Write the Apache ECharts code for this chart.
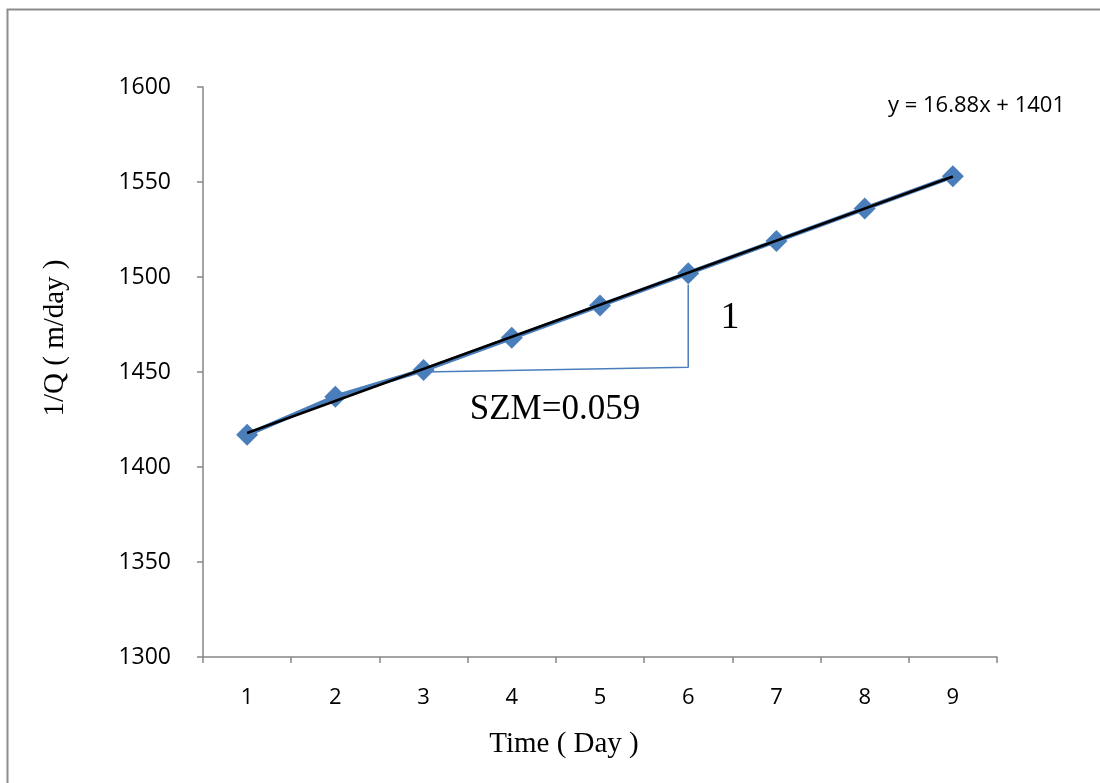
<!DOCTYPE html>
<html><head><meta charset="utf-8">
<script src="https://cdn.jsdelivr.net/npm/echarts@6/dist/echarts.min.js"></script>
<style>html,body{margin:0;padding:0;background:#fff}#c{width:1100px;height:783px}</style>
</head><body><div id="c"></div>
<script>
const categories = ['1','2','3','4','5','6','7','8','9'];
const invQ = [1417, 1437, 1451, 1468, 1485, 1502, 1519, 1536, 1553];
const trendX = [0, 8];            // category indices of day 1 and day 9
const trendY = [1417.9, 1552.9];  // y = 16.88x + 1401 at the ends
const triX = [2, 5, 5];           // slope triangle corners (category indices)
const triY = [1450, 1452.5, 1496];
const yTicks = {min: 1300, max: 1600, step: 50};

const chart = echarts.init(document.getElementById('c'));
chart.setOption({
  animation: false,
  backgroundColor: '#fff',
  grid: {left: 203, right: 103, top: 87, bottom: 126},
  xAxis: {
    type: 'category', data: categories, boundaryGap: true,
    axisLine: {lineStyle: {color: '#868686', width: 1.5}},
    axisTick: {show: true, length: 6, interval: 0, lineStyle: {color: '#868686', width: 1.5}},
    axisLabel: {margin: 30, color: '#000', fontFamily: 'Open Sans', fontSize: 22},
    splitLine: {show: false}
  },
  yAxis: {
    type: 'value', min: yTicks.min, max: yTicks.max, interval: yTicks.step,
    axisLine: {show: true, lineStyle: {color: '#868686', width: 1.5}},
    axisTick: {show: true, length: 6, lineStyle: {color: '#868686', width: 1.5}},
    axisLabel: {margin: 32, color: '#000', fontFamily: 'Open Sans', fontSize: 23,
                formatter: v => String(v)},
    splitLine: {show: false}
  },
  series: [
    {
      type: 'line', data: invQ, symbol: 'diamond', symbolSize: 22,
      lineStyle: {color: '#4a7ebb', width: 4.5},
      itemStyle: {color: '#4a7ebb'}, z: 2
    },
    {
      type: 'line', data: trendX.map((x, i) => [x, trendY[i]]), symbol: 'none',
      lineStyle: {color: '#000', width: 2.5}, z: 3
    },
    {
      type: 'line', data: triX.map((x, i) => [x, triY[i]]), symbol: 'none',
      lineStyle: {color: '#4a7ebb', width: 1.5}, z: 1
    }
  ],
  graphic: [
    {type: 'polyline', shape: {points: [[1100, 9.5], [7.5, 9.5], [7.5, 783]]},
     style: {stroke: '#8c8c8c', lineWidth: 2, fill: null}},
    {type: 'text', x: 888, y: 106,
     style: {text: 'y = 16.88x + 1401', font: '22px "Open Sans"', fill: '#000', verticalAlign: 'middle'}},
    {type: 'text', x: 730, y: 318,
     style: {text: '1', font: '38px "Liberation Serif"', fill: '#000', align: 'center', verticalAlign: 'middle'}},
    {type: 'text', x: 555, y: 410,
     style: {text: 'SZM=0.059', font: '35px "Liberation Serif"', fill: '#000', align: 'center', verticalAlign: 'middle'}},
    {type: 'text', x: 564, y: 744,
     style: {text: 'Time ( Day )', font: '29px "Liberation Serif"', fill: '#000', align: 'center', verticalAlign: 'middle'}},
    {type: 'text', x: 55, y: 338, rotation: Math.PI / 2,
     style: {text: '1/Q ( m/day )', font: '29px "Liberation Serif"', fill: '#000', align: 'center', verticalAlign: 'middle'}}
  ]
});
</script></body></html>
